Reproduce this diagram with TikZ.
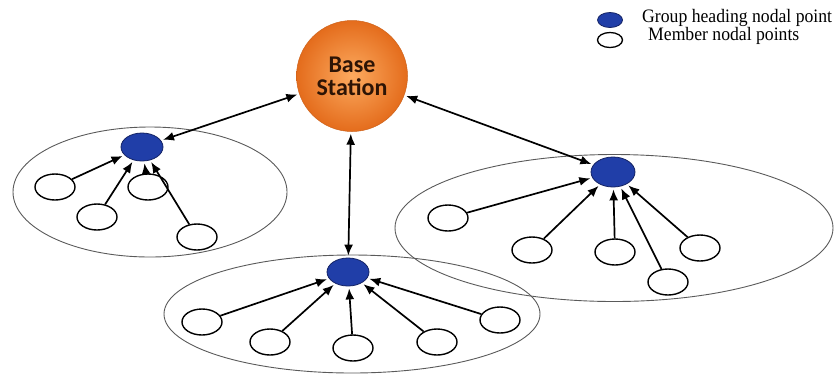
\documentclass[tikz,border=0pt]{standalone}
\usepackage{fontspec}
\setmainfont{Liberation Serif}
\newfontfamily\carlito{Carlito}
\usetikzlibrary{shapes.geometric,arrows.meta}
\definecolor{headblue}{RGB}{32,62,168}
\definecolor{headedge}{RGB}{20,35,100}
\definecolor{bsinner}{RGB}{252,170,95}
\definecolor{bsouter}{RGB}{228,108,28}
\definecolor{bstext}{RGB}{45,20,5}
\definecolor{clgray}{RGB}{90,90,90}
\tikzset{
  cluster/.style={ellipse, draw=clgray, line width=0.9pt, inner sep=0pt},
  head/.style={ellipse, draw=headedge, fill=headblue, line width=0.8pt, inner sep=0pt, minimum width=42pt, minimum height=28pt},
  member/.style={ellipse, draw=black, fill=white, line width=1.4pt, inner sep=0pt, minimum width=40pt, minimum height=26pt},
  uplink/.style={-{Latex[length=11pt,width=9pt]}, line width=1.7pt, shorten >=2pt, shorten <=0pt},
  bslink/.style={{Latex[length=11pt,width=9pt]}-{Latex[length=11pt,width=9pt]}, line width=1.7pt, shorten >=2pt, shorten <=2pt},
  legtext/.style={anchor=base west, font=\fontsize{19}{21}\selectfont, inner sep=0pt, xscale=0.93, transform shape}
}
\begin{document}
\begin{tikzpicture}[x=1pt,y=-1pt]
\useasboundingbox (0,0) rectangle (834,376);
% clusters
\node[cluster, minimum width=274pt, minimum height=130pt] (cl) at (150,192) {};
\node[cluster, minimum width=438pt, minimum height=147pt] (cr) at (614,228) {};
\node[cluster, minimum width=376pt, minimum height=118pt] (cb) at (352,314) {};
% base station
\node[circle, minimum size=111pt, inner sep=0pt, shading=radial, inner color=bsinner, outer color=bsouter, draw=bsouter!90!black, line width=0.5pt,
      font=\carlito\bfseries\fontsize{24}{23}\selectfont, text=bstext, align=center] (bs) at (352,76) {Base\\Station};
% left cluster
\node[head] (hl) at (142,147) {};
\node[member] (l1) at (55,187) {};
\node[member] (l2) at (97,217) {};
\node[member] (l3) at (148,187) {};
\node[member] (l4) at (197,237) {};
% bottom cluster
\node[head] (hb) at (348,272) {};
\node[member] (b1) at (202,322) {};
\node[member] (b2) at (270,342) {};
\node[member] (b3) at (353,348) {};
\node[member] (b4) at (437,342) {};
\node[member] (b5) at (500,320) {};
% right cluster
\node[head, minimum width=44pt, minimum height=30pt] (hr) at (613,172) {};
\node[member] (r1) at (448,218) {};
\node[member] (r2) at (532,250) {};
\node[member] (r3) at (615,252) {};
\node[member] (r4) at (668,282) {};
\node[member] (r5) at (700,248) {};
% member links
\foreach \m in {l1,l2,l3,l4} \draw[uplink] (\m) -- (hl);
\foreach \m in {b1,b2,b3,b4,b5} \draw[uplink] (\m) -- (hb);
\foreach \m in {r1,r2,r3,r4,r5} \draw[uplink] (\m) -- (hr);
% base station links
\draw[bslink] (bs) -- (hl);
\draw[bslink] (bs) -- (hb);
\draw[bslink] (bs) -- (hr);
% legend
\node[ellipse, draw=headedge, fill=headblue, line width=0.8pt, inner sep=0pt, minimum width=25pt, minimum height=15pt] (lg1) at (610,20) {};
\node[ellipse, draw=black, fill=white, line width=1.3pt, inner sep=0pt, minimum width=25pt, minimum height=15pt] (lg2) at (610,40) {};
\node[legtext] (lt1) at (642,22) {Group heading nodal point};
\node[legtext] (lt2) at (648,40) {Member nodal points};
\end{tikzpicture}
\end{document}
